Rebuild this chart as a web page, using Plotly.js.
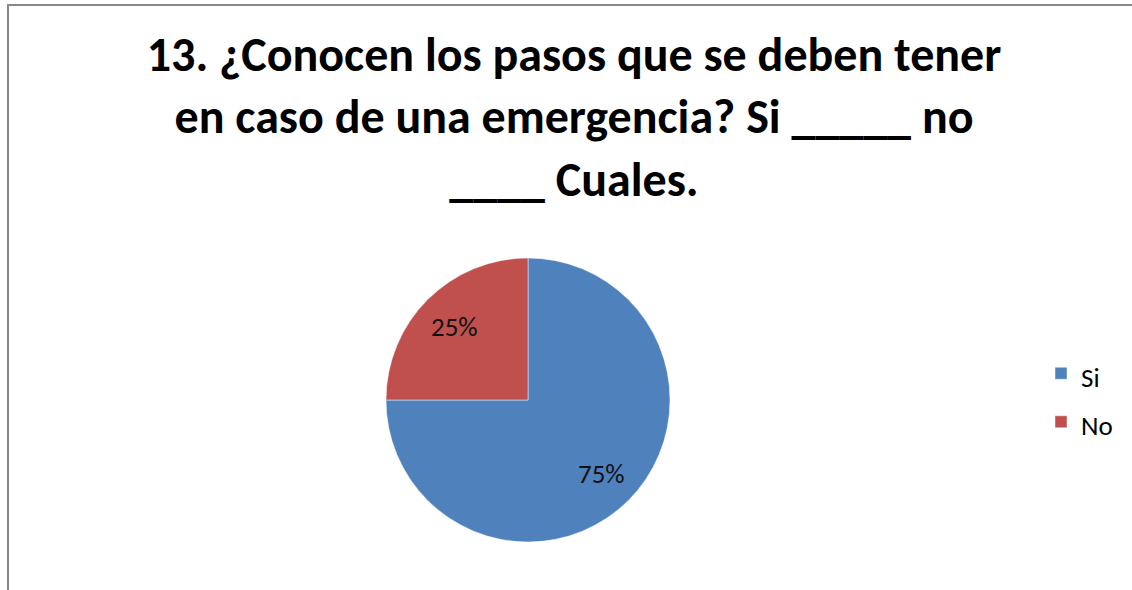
<!DOCTYPE html>
<html>
<head>
<meta charset="utf-8">
<script src="https://cdn.plot.ly/plotly-3.0.1.min.js"></script>
<style>
html,body{margin:0;padding:0;background:#fff;}
#chart{width:1132px;height:590px;}
</style>
</head>
<body>
<div id="chart"></div>
<script>
const labels = ["Si", "No"];
const values = [75, 25];
const colors = ["#4F81BD", "#C0504D"];
const titleLines = [
  "13. ¿Conocen los pasos que se deben tener",
  "en caso de una emergencia? Si _____ no",
  "____ Cuales."
];

const W = 1132, H = 590;
const cx = 528, cy = 400, r = 142;
const FONT = "Carlito, Calibri, 'Open Sans', sans-serif";

const trace = {
  type: "pie",
  labels: labels.map(l => '<span style="font-size:27px">' + l + '</span>'),
  values: values,
  sort: false,
  direction: "clockwise",
  rotation: 0,
  marker: {colors: colors, line: {color: "rgba(255,255,255,0.45)", width: 1}},
  textinfo: "none",
  domain: {x: [(cx - r) / W, (cx + r) / W], y: [1 - (cy + r) / H, 1 - (cy - r) / H]},
  hovertemplate: "%{label}: %{percent}<extra></extra>"
};

// percentage labels placed at mid-angle of each slice
const total = values.reduce((a, b) => a + b, 0);
const annotations = [];
let acc = 0;
values.forEach((v, i) => {
  const mid = (acc + v / 2) / total * 2 * Math.PI; // clockwise from top
  acc += v;
  const rr = 0.73 * r;
  const px = cx + rr * Math.sin(mid);
  const py = cy - rr * Math.cos(mid);
  annotations.push({
    xref: "paper", yref: "paper",
    x: px / W, y: 1 - py / H,
    xanchor: "center", yanchor: "middle",
    text: Math.round(v / total * 100) + "%",
    showarrow: false,
    font: {family: FONT, size: 27, color: "#111"}
  });
});

const layout = {
  width: W, height: H,
  margin: {l: 0, r: 0, t: 0, b: 0},
  paper_bgcolor: "#fff",
  showlegend: true,
  title: {
    text: titleLines.join("<br>"),
    font: {family: FONT, size: 48, color: "#000", weight: "bold"},
    x: 574 / W, xanchor: "center",
    y: 1 - 71 / H, yanchor: "top"
  },
  legend: {
    x: 1041 / W, xanchor: "left",
    y: 1 - 344 / H, yanchor: "top",
    font: {family: FONT, size: 35, color: "#000"},
    itemwidth: 30,
    bgcolor: "rgba(0,0,0,0)"
  },
  annotations: annotations,
  shapes: [
    {type: "line", xref: "paper", yref: "paper", x0: 8 / W, x1: 1, y0: 1 - 5 / H, y1: 1 - 5 / H, line: {color: "#888", width: 2}},
    {type: "line", xref: "paper", yref: "paper", x0: 8 / W, x1: 8 / W, y0: 1 - 4 / H, y1: 0, line: {color: "#888", width: 2}}
  ]
};

Plotly.newPlot("chart", [trace], layout, {displayModeBar: false});
</script>
</body>
</html>
